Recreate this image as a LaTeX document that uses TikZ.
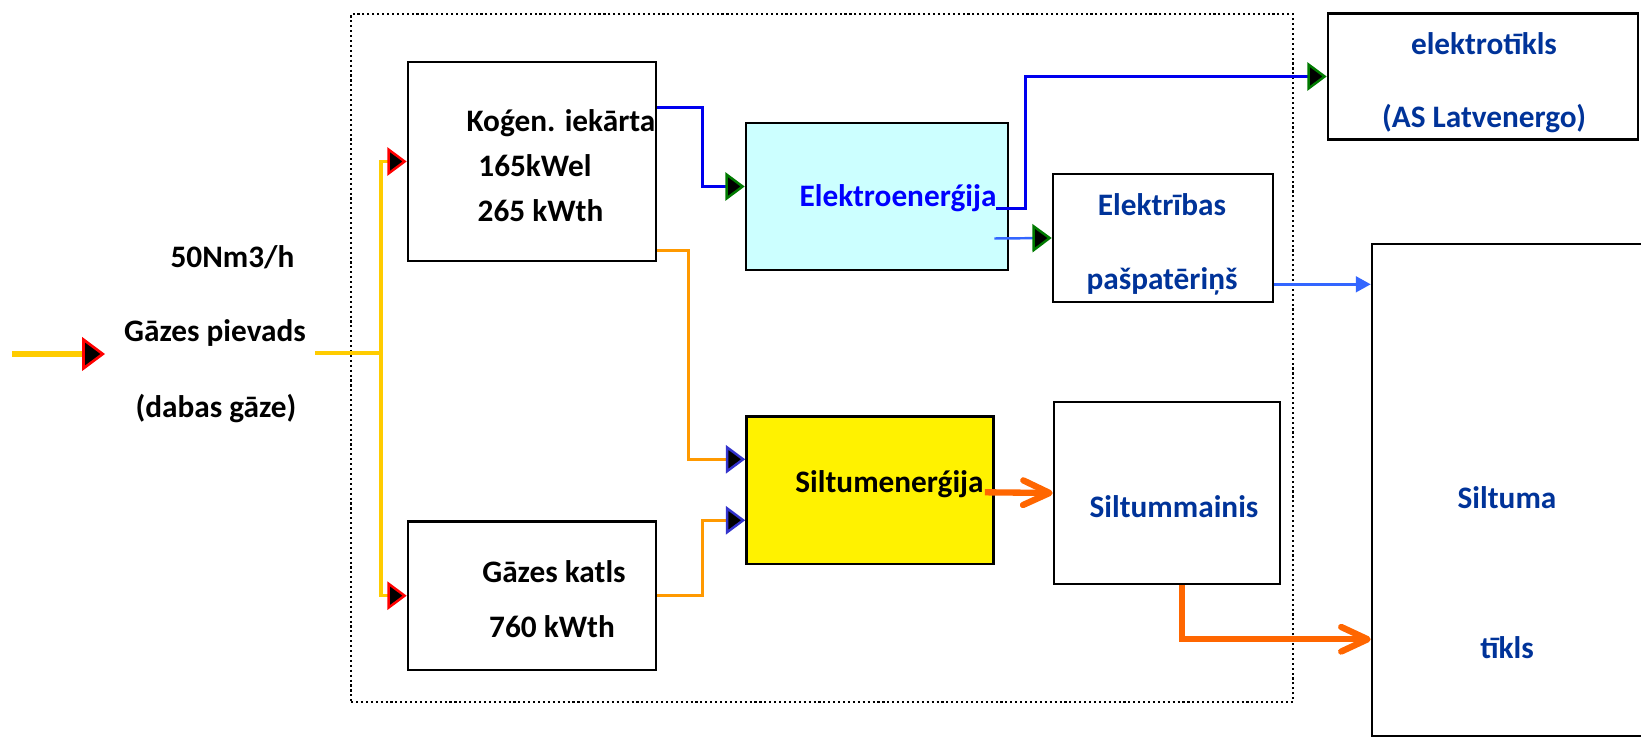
\documentclass[tikz,border=0pt]{standalone}
\usepackage{fontspec}
\setmainfont{Carlito}
\usepackage{xcolor}
\usetikzlibrary{arrows.meta, positioning, calc}

\definecolor{gasyellow}{HTML}{FFCC00}
\definecolor{elecblue}{HTML}{0000EE}
\definecolor{lightblue}{HTML}{3366FF}
\definecolor{heatorange}{HTML}{FF9900}
\definecolor{hotorange}{HTML}{FF6600}
\definecolor{tipgreen}{HTML}{007A00}
\definecolor{tipblue}{HTML}{3333CC}
\definecolor{textblue}{HTML}{003399}
\definecolor{cyanfill}{HTML}{CCFFFF}

\begin{document}
\begin{tikzpicture}[
    x=0.02cm, y=-0.02cm,
    box/.style={rectangle, draw, line width=1.5pt, inner sep=0pt},
    plant/.style={rectangle, draw, line width=1.2pt, dash pattern=on 1.2pt off 1.6pt, inner sep=0pt},
    txt/.style={inner sep=0pt, anchor=base, font=\fontsize{17.8}{21}\selectfont\bfseries},
    redtip/.tip={Triangle[length=11pt, width=16pt, color=red, fill=black, line width=1.4pt]},
    greentip/.tip={Triangle[length=11pt, width=16pt, color=tipgreen, fill=black, line width=1.4pt]},
    bluetip/.tip={Triangle[length=11pt, width=16pt, color=tipblue, fill=black, line width=1.4pt]},
    gas/.style={draw=gasyellow, line width=1.9pt},
    elec/.style={draw=elecblue, line width=1.7pt, -{greentip}},
    selfuse/.style={draw=lightblue, line width=1.4pt},
    heat/.style={draw=heatorange, line width=1.6pt, -{bluetip}},
    hot/.style={draw=hotorange, line width=3.6pt, -{Straight Barb[length=15pt, width=14pt, round]}}
]
\useasboundingbox (0,0) rectangle (1641,739);

% Plant boundary
\node[plant, minimum width=18.84cm, minimum height=13.76cm] (site) at (822,358) {};

% Boxes
\node[box, minimum width=4.96cm, minimum height=3.98cm] (kogen) at (532,161.5) {};
\node[box, minimum width=4.96cm, minimum height=2.97cm] (katls) at (532,595.7) {};
\node[box, fill=cyanfill, minimum width=5.24cm, minimum height=2.94cm] (elektro) at (877,196.5) {};
\node[box, fill=yellow, minimum width=4.94cm, minimum height=2.95cm] (siltum) at (870,490.3) {};
\node[box, minimum width=4.40cm, minimum height=2.56cm] (paterins) at (1163,238) {};
\node[box, minimum width=4.52cm, minimum height=3.64cm] (mainis) at (1167,493) {};
\node[box, minimum width=6.20cm, minimum height=2.52cm] (etikls) at (1483,76.5) {};
\node[box, minimum width=6.56cm, minimum height=9.84cm] (stikls) at (1536,490) {};

% Gas labels
\node[txt] (rate) at (232.5,268) {50Nm3/h};
\node[txt] (pievads) at (215,342) {Gāzes pievads};
\node[txt] (dabas) at (216,418) {(dabas gāze)};

% Box labels
\node[txt] (kogname) at (561,132) {Koǵen. iekārta};
\node[txt] (kogel) at (535,177) {165kWel};
\node[txt] (kogth) at (540.5,222) {265 kWth};
\node[txt] (katlname) at (554,583) {Gāzes katls};
\node[txt] (katlth) at (552,638) {760 kWth};
\node[txt, text=blue] (eltxt) at (898,207) {Elektroenerǵija};
\node[txt] (siltxt) at (889.5,493) {Siltumenerǵija};
\node[txt, text=textblue] (pat1) at (1162,216) {Elektrības};
\node[txt, text=textblue] (pat2) at (1162,290) {pašpatēriņš};
\node[txt, text=textblue] (et1) at (1484,55) {elektrotīkls};
\node[txt, text=textblue] (et2) at (1484,128) {(AS Latvenergo)};
\node[txt, text=textblue] (maintxt) at (1174,518) {Siltummainis};
\node[txt, text=textblue] (st1) at (1507,509) {Siltuma};
\node[txt, text=textblue] (st2) at (1507,659) {tīkls};

% Gas supply
\coordinate (gasin) at (12,354);
\coordinate (gastip) at (105,354);
\coordinate (gasout) at (315,353);
\coordinate (split) at (381,353);
\draw[gas, line width=3.6pt, -{Triangle[length=13pt, width=19pt, color=red, fill=black, line width=1.5pt]}] (gasin) -- (gastip);
\draw[gas] (gasout) -- (split);
\draw[gas, -{redtip}] (split) |- (kogen.west);
\draw[gas, -{redtip}] (split) |- (katls.west);

% Electricity
\draw[elec] ($(kogen.north east)+(0,47)$) -- ++(45,0) |- ($(elektro.west)+(0,-10)$);
\draw[elec] ($(elektro.east)+(-13,12)$) -- ++(29,0) |- (etikls.west);
\draw[selfuse, -{greentip}] ($(elektro.east)+(-15,42)$) -- (paterins.west);
\draw[selfuse, -{Triangle[length=8.5pt, width=9pt]}] ($(paterins.south east)+(0,-19)$) coordinate (pu) -- (pu -| stikls.west);

% Heat
\draw[heat] ($(kogen.south east)+(0,-12)$) -- ++(31,0) |- ($(siltum.west)+(0,-31)$);
\draw[heat] (katls.east) -- ++(45,0) |- ($(siltum.west)+(0,30)$);
\draw[hot] ($(siltum.east)+(-10,2)$) -- (mainis.west);
\draw[hot] ($(mainis.south)+(15,0)$) |- ($(stikls.south west)+(0,-98)$);

\end{tikzpicture}
\end{document}
